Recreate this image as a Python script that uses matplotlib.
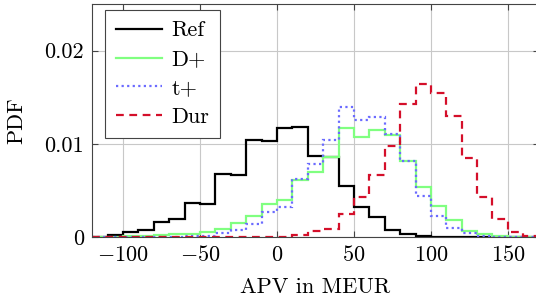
import matplotlib
matplotlib.use("Agg")
import matplotlib.pyplot as plt
import numpy as np

plt.rcParams['font.family'] = 'serif'
plt.rcParams['font.serif'] = ['cmr10', 'DejaVu Serif']
plt.rcParams['mathtext.fontset'] = 'cm'
plt.rcParams['axes.formatter.use_mathtext'] = True
plt.rcParams['axes.unicode_minus'] = True

# bin edges of the histograms (MEUR), width 10
edges = np.arange(-120, 171, 10)

ref = [0, 0.0002, 0.0005, 0.00075, 0.0016, 0.0019, 0.0037, 0.0035, 0.0068, 0.0066,
       0.0104, 0.0103, 0.0117, 0.01175, 0.0087, 0.0086, 0.0055, 0.0032, 0.0021, 0.0008,
       0.0003, 0.00015, 0, 0, 0, 0, 0, 0, 0]
dplus = [0, 0.00005, 0.0001, 0.0001, 0.0002, 0.0003, 0.0003, 0.0005, 0.0009, 0.0015,
         0.0022, 0.0035, 0.004, 0.0061, 0.007, 0.0086, 0.0117, 0.0107, 0.0115, 0.0109,
         0.0082, 0.0054, 0.0033, 0.0018, 0.0006, 0.0003, 0.0001, 0, 0]
tplus = [0, 0, 0, 0, 0, 0, 0.0001, 0.0001, 0.0004, 0.0008,
         0.0014, 0.0027, 0.0032, 0.0062, 0.0078, 0.0104, 0.0139, 0.0125, 0.0129, 0.011,
         0.0082, 0.0044, 0.0022, 0.001, 0.0004, 0.0001, 0, 0, 0]
dur = [0, 0, 0, 0, 0, 0, 0, 0, 0, 0.00003,
       0.00003, 0.00003, 0.00005, 0.0002, 0.0006, 0.0009, 0.0025, 0.0043, 0.0067, 0.0098,
       0.0143, 0.0164, 0.0155, 0.013, 0.0085, 0.0043, 0.0019, 0.0005, 0.0001]

fig = plt.figure(figsize=(5.36, 3.04), dpi=100)
ax = fig.add_axes([0.172, 0.2204, 0.833, 0.7665])

ax.stairs(ref, edges, baseline=None, color='black', lw=1.6, label='Ref')
ax.stairs(dplus, edges, baseline=None, color='#80ff80', lw=1.6, label='D+')
ax.stairs(tplus, edges, baseline=None, color='#6b6bff', lw=1.6, ls=(0, (1, 1.5)), label='t+')
ax.stairs(dur, edges, baseline=None, color='#d40f2a', lw=1.6, ls=(0, (3.5, 2.5)), label='Dur')

ax.set_xlim(-120, 170)
ax.set_ylim(0, 0.025)
ax.set_xticks([-100, -50, 0, 50, 100, 150])
ax.set_yticks([0, 0.01, 0.02])
ax.set_yticklabels(['0', '0.01', '0.02'])
ax.grid(True, color='#c8c8c8', lw=0.8)
ax.set_axisbelow(True)
ax.tick_params(direction='in', top=True, right=True, labelsize=16, length=4,
               color='#444444', pad=6)
for s in ax.spines.values():
    s.set_color('#444444')

ax.set_xlabel('APV in MEUR', fontsize=16, labelpad=9)
ax.set_ylabel('PDF', fontsize=16, labelpad=13)

leg = ax.legend(loc='upper left', bbox_to_anchor=(0.028, 0.975), fontsize=16,
                fancybox=False, edgecolor='#444444', framealpha=1,
                handlelength=2.1, handletextpad=0.4, borderpad=0.5, labelspacing=0.42,
                borderaxespad=0)
leg.get_frame().set_linewidth(0.8)

fig.savefig('out.png', dpi=100)
